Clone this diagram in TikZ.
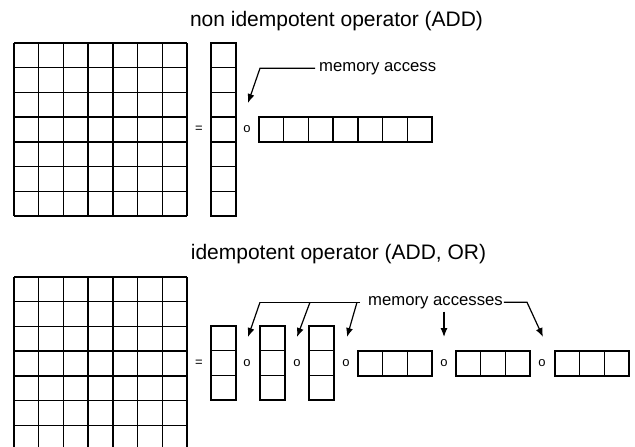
\documentclass[tikz,border=0pt]{standalone}
\usepackage{fontspec}
\setmainfont{Liberation Sans}
\usepackage{tikz}
\usetikzlibrary{arrows.meta}
\tikzstyle{gridline} = [line width=1.4pt]
\tikzstyle{pointer} = [line width=1.2pt,-{Latex[length=9pt,width=7pt]}]
\tikzstyle{title} = [font=\fontsize{21}{25}\selectfont,anchor=base,inner sep=0pt]
\tikzstyle{note} = [font=\fontsize{16.7}{20}\selectfont,anchor=base west,inner sep=0pt]
\tikzstyle{op} = [font=\fontsize{13}{15}\selectfont,inner sep=0pt]

\begin{document}
\begin{tikzpicture}[x=1pt,y=-1pt]
	\useasboundingbox (0,0) rectangle (635,447);
	\clip (0,0) rectangle (635,447);

	% non idempotent
	\node[title] (topt) at (336.5,26) {non idempotent operator (ADD)};
	\begin{scope}[shift={(14,43)}]
		\foreach \i in {0,...,7}
		{
			\draw[gridline] (\i*24.7,0) -- (\i*24.7,172.9);
			\draw[gridline] (0,\i*24.7) -- (172.9,\i*24.7);
		}
	\end{scope}
	\begin{scope}[shift={(211,43)}]
		\draw[gridline] (0,0) rectangle (25,172.9);
		\foreach \i in {1,...,6}
		{
			\draw[gridline] (0,\i*24.7) -- (25,\i*24.7);
		}
	\end{scope}
	\begin{scope}[shift={(259,117)}]
		\draw[gridline] (0,0) rectangle (172.9,25);
		\foreach \i in {1,...,6}
		{
			\draw[gridline] (\i*24.7,0) -- (\i*24.7,25);
		}
	\end{scope}
	\node[op] (eqa) at (199,129.5) {=};
	\node[op] (oa) at (247,129.5) {o};

	\node[note] (acc) at (319,71) {memory access};
	\coordinate (ka) at (260,68);
	\coordinate (ta) at (248,103);
	\draw[pointer] (acc.west) ++(-4,0) -- (acc.west -| ka) -- (ta);

	% idempotent
	\node[title] (bott) at (338.5,259) {idempotent operator (ADD, OR)};
	\begin{scope}[shift={(14,277)}]
		\foreach \i in {0,...,7}
		{
			\draw[gridline] (\i*24.7,0) -- (\i*24.7,172.9);
			\draw[gridline] (0,\i*24.7) -- (172.9,\i*24.7);
		}
	\end{scope}
	\foreach \x in {211,260,309}
	{
		\begin{scope}[shift={(\x,326)}]
			\draw[gridline] (0,0) rectangle (25,74.1);
			\draw[gridline] (0,24.7) -- (25,24.7);
			\draw[gridline] (0,49.4) -- (25,49.4);
		\end{scope}
	}
	\foreach \x in {358,456,555}
	{
		\begin{scope}[shift={(\x,351)}]
			\draw[gridline] (0,0) rectangle (74.1,25);
			\draw[gridline] (24.7,0) -- (24.7,25);
			\draw[gridline] (49.4,0) -- (49.4,25);
		\end{scope}
	}
	\node[op] (eqb) at (199,363.5) {=};
	\node[op] (ob1) at (247,363.5) {o};
	\node[op] (ob2) at (297,363.5) {o};
	\node[op] (ob3) at (346,363.5) {o};
	\node[op] (ob4) at (444,363.5) {o};
	\node[op] (ob5) at (542,363.5) {o};

	\node[note] (accs) at (368,305) {memory accesses};
	\coordinate (kb1) at (260,302);
	\coordinate (kb2) at (310,302);
	\coordinate (kb3) at (357,302);
	\coordinate (kb5) at (527,302);
	\coordinate (tb1) at (248,337);
	\coordinate (tb2) at (297,337);
	\coordinate (tb3) at (347,337);
	\coordinate (tb4) at (444,337);
	\coordinate (tb5) at (543,337);
	\draw[line width=1.2pt] (accs.west) ++(-8,0) -- (accs.west -| kb1);
	\draw[pointer] (accs.west -| kb1) -- (tb1);
	\draw[pointer] (accs.west -| kb2) -- (tb2);
	\draw[pointer] (accs.west -| kb3) -- (tb3);
	\draw[pointer] (accs.south -| tb4) ++(0,3) -- (tb4);
	\draw[pointer] (accs.east) ++(1,0) -- (accs.east -| kb5) -- (tb5);
\end{tikzpicture}
\end{document}
